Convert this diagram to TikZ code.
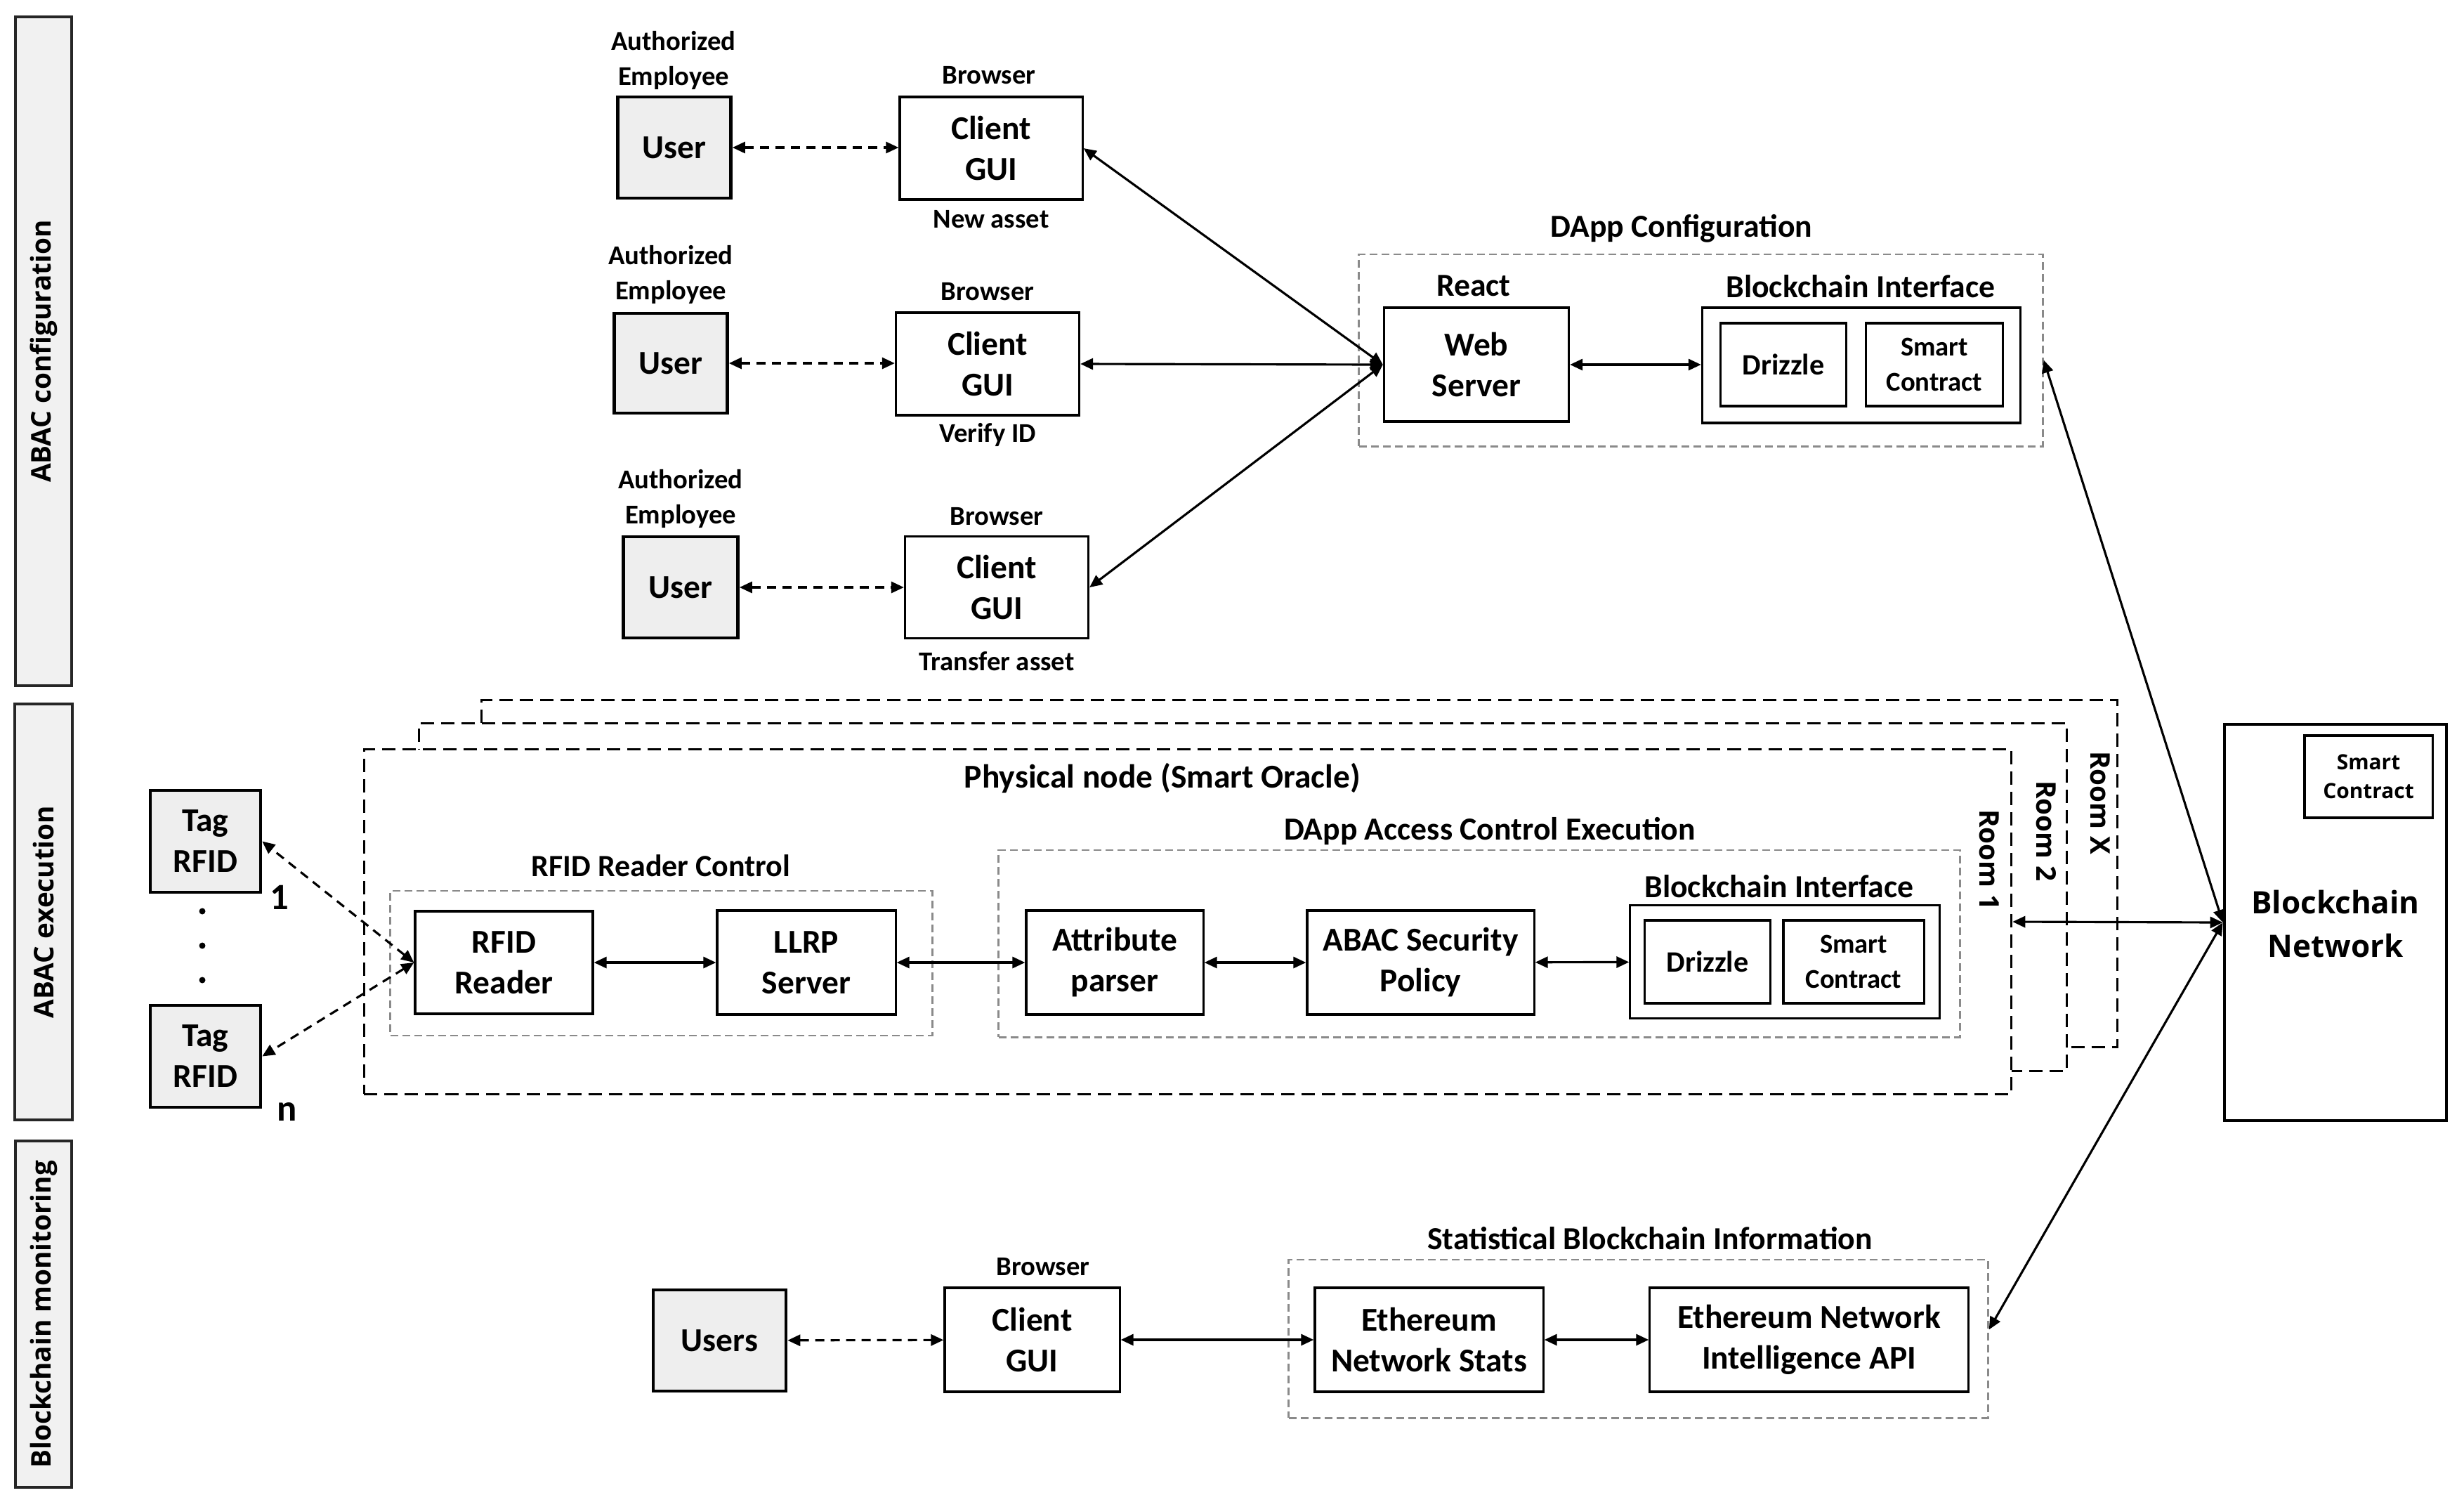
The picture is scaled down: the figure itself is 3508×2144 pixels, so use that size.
\documentclass[tikz,border=0pt]{standalone}
\usepackage{fontspec}
\setmainfont{Carlito}
\newfontfamily\osans{Open Sans}
\usetikzlibrary{arrows.meta}
\definecolor{ufill}{HTML}{EEEEEE}
\definecolor{bfill}{HTML}{F1F1F1}
\definecolor{grpc}{HTML}{8A8A8A}
\begin{document}
\begin{tikzpicture}[x=0.01cm, y=-0.01cm,
  box/.style={draw, line width=0.9pt, fill=white, inner sep=0pt, align=center, font=\bfseries\fontsize{13.5}{16.5}\selectfont},
  userbox/.style={box, fill=ufill, line width=1.3pt},
  lbl/.style={inner sep=0pt, align=center, font=\bfseries\fontsize{11}{14}\selectfont},
  ttl/.style={inner sep=0pt, align=center, font=\bfseries\fontsize{13}{16}\selectfont},
  grp/.style={draw=grpc, line width=0.8pt, dash pattern=on 1.1mm off 0.6mm, inner sep=0pt},
  room/.style={draw, fill=white, line width=0.9pt, dash pattern=on 1.9mm off 1mm, inner sep=0pt},
  band/.style={draw=black!85, fill=bfill, line width=1.1pt, inner sep=0pt, font=\osans\bfseries\fontsize{11}{13}\selectfont},
  roomlbl/.style={inner sep=0pt, font=\osans\bfseries\fontsize{11}{13}\selectfont},
  tip/.tip={Triangle[length=1.8mm,width=1.6mm]},
  arr/.style={tip-tip, line width=0.9pt},
  darr/.style={tip-tip, line width=0.9pt, dash pattern=on 1.3mm off 0.9mm},
  dotn/.style={circle, fill, inner sep=0pt, minimum size=0.09cm}
]
\useasboundingbox (0,0) rectangle (3508,2144);

% side bands
\node[band, rotate=90, minimum width=9.52cm, minimum height=0.80cm] (b1) at (62,500) {ABAC configuration};
\node[band, rotate=90, minimum width=5.92cm, minimum height=0.82cm] (b2) at (62,1298) {ABAC execution};
\node[band, rotate=90, minimum width=4.93cm, minimum height=0.80cm] (b3) at (62,1870.5) {Blockchain monitoring};

% row 1
\node[lbl] (ae1) at (959,86) {Authorized\\Employee};
\node[userbox, minimum width=1.61cm, minimum height=1.44cm] (u1) at (960,210) {User};
\node[lbl] (br1) at (1408,107) {Browser};
\node[box, minimum width=2.60cm, minimum height=1.46cm] (c1) at (1411,211) {Client\\GUI};
\node[lbl] (na) at (1411,312) {New asset};
% row 2
\node[lbl] (ae2) at (955,391) {Authorized\\Employee};
\node[userbox, minimum width=1.61cm, minimum height=1.42cm] (u2) at (955,517) {User};
\node[lbl] (br2) at (1406,415) {Browser};
\node[box, minimum width=2.61cm, minimum height=1.46cm] (c2) at (1406,518) {Client\\GUI};
\node[lbl] (vid) at (1406,619) {Verify ID};
% row 3
\node[lbl] (ae3) at (969,710) {Authorized\\Employee};
\node[userbox, minimum width=1.63cm, minimum height=1.44cm] (u3) at (969,836) {User};
\node[lbl] (br3) at (1419,735) {Browser};
\node[box, minimum width=2.61cm, minimum height=1.45cm] (c3) at (1419,836) {Client\\GUI};
\node[lbl] (ta) at (1419,941) {Transfer asset};

% DApp configuration
\node[grp, minimum width=9.73cm, minimum height=2.73cm] (dcg) at (2421.5,498.5) {};
\node[ttl] (dct) at (2394,325) {DApp Configuration};
\node[ttl] (react) at (2098,407) {React};
\node[box, minimum width=2.63cm, minimum height=1.62cm] (ws) at (2102,519) {Web\\Server};
\node[ttl] (bit1) at (2649,408) {Blockchain Interface};
\node[box, minimum width=4.53cm, minimum height=1.64cm] (bi1) at (2650,520) {};
\node[box, font=\bfseries\fontsize{12}{14}\selectfont, minimum width=1.79cm, minimum height=1.18cm] (dz1) at (2539,519) {Drizzle};
\node[box, font=\bfseries\fontsize{11}{14}\selectfont, minimum width=1.95cm, minimum height=1.18cm] (sc1) at (2754,519) {Smart\\Contract};

% rooms
\node[room, minimum width=23.28cm, minimum height=4.93cm] (roomx) at (1850,1243.5) {};
\node[room, minimum width=23.45cm, minimum height=4.94cm] (room2) at (1769.5,1277) {};
\node[room, minimum width=23.44cm, minimum height=4.90cm] (room1) at (1691,1312) {};
\node[roomlbl, rotate=-90] (rxl) at (2990,1143) {Room X};
\node[roomlbl, rotate=-90] (r2l) at (2913,1183) {Room 2};
\node[roomlbl, rotate=-90] (r1l) at (2832,1224) {Room 1};
\node[ttl, font=\bfseries\fontsize{13.5}{16}\selectfont] (pn) at (1655,1108) {Physical node (Smart Oracle)};

% RFID reader control
\node[ttl, font=\bfseries\fontsize{12.5}{15}\selectfont] (rrct) at (941,1232) {RFID Reader Control};
\node[grp, minimum width=7.71cm, minimum height=2.06cm] (rrc) at (941.5,1371) {};
\node[box, minimum width=2.53cm, minimum height=1.46cm] (rr) at (717.5,1370) {RFID\\Reader};
\node[box, minimum width=2.54cm, minimum height=1.48cm] (llrp) at (1148,1370) {LLRP\\Server};

% DApp access control execution
\node[ttl] (acet) at (2121,1183) {DApp Access Control Execution};
\node[grp, minimum width=13.68cm, minimum height=2.66cm] (ace) at (2106,1343) {};
\node[box, minimum width=2.52cm, minimum height=1.48cm] (ap) at (1587,1370) {Attribute\\parser};
\node[box, minimum width=3.23cm, minimum height=1.48cm] (abac) at (2022.5,1370) {ABAC Security\\Policy};
\node[ttl] (bit2) at (2533,1262) {Blockchain Interface};
\node[box, minimum width=4.40cm, minimum height=1.61cm] (bi2) at (2541,1369) {};
\node[box, font=\bfseries\fontsize{12}{14}\selectfont, minimum width=1.79cm, minimum height=1.18cm] (dz2) at (2431,1369) {Drizzle};
\node[box, font=\bfseries\fontsize{11}{14}\selectfont, minimum width=2.00cm, minimum height=1.18cm] (sc2) at (2639,1369) {Smart\\Contract};

% tags
\node[userbox, minimum width=1.57cm, minimum height=1.45cm] (tag1) at (292.5,1197.5) {Tag\\RFID};
\node[userbox, minimum width=1.57cm, minimum height=1.45cm] (tagn) at (292.5,1503.5) {Tag\\RFID};
\node[inner sep=0pt, font=\bfseries\fontsize{15}{17}\selectfont] (one) at (398,1277) {1};
\node[inner sep=0pt, font=\bfseries\fontsize{15}{17}\selectfont] (enn) at (409,1582) {n};
\node[dotn] (dd1) at (288,1297) {};
\node[dotn] (dd2) at (288,1346) {};
\node[dotn] (dd3) at (288,1395) {};

% blockchain network
\node[draw, line width=1.3pt, inner sep=0pt, minimum width=3.16cm, minimum height=5.64cm] (bn) at (3325,1313) {};
\node[inner sep=0pt, align=center, font=\osans\bfseries\fontsize{12.5}{17.5}\selectfont] (bnt) at (3325,1315) {Blockchain\\Network};
\node[draw, line width=0.9pt, inner sep=0pt, align=center, minimum width=1.82cm, minimum height=1.17cm, font=\osans\bfseries\fontsize{8.5}{11.5}\selectfont] (bnsc) at (3372,1105.5) {Smart\\Contract};

% monitoring row
\node[lbl] (br4) at (1485,1803) {Browser};
\node[ttl] (sbit) at (2349,1763) {Statistical Blockchain Information};
\node[grp, minimum width=9.95cm, minimum height=2.25cm] (sbi) at (2332.5,1905.5) {};
\node[userbox, minimum width=1.89cm, minimum height=1.44cm] (users) at (1024.5,1908) {Users};
\node[box, minimum width=2.49cm, minimum height=1.48cm] (cg) at (1469.5,1907) {Client\\GUI};
\node[box, minimum width=3.25cm, minimum height=1.48cm] (ens) at (2034.5,1907) {Ethereum\\Network Stats};
\node[box, minimum width=4.53cm, minimum height=1.48cm] (api) at (2575.5,1907) {Ethereum Network\\Intelligence API};

% connectors
\draw[darr] (u1.east) -- (u1.east -| c1.west);
\draw[darr] (u2.east) -- (u2.east -| c2.west);
\draw[darr] (u3.east) -- (u3.east -| c3.west);
\draw[arr] (c1.east) -- (ws.west);
\draw[arr] (c2.east) -- (ws.west);
\draw[arr] (c3.east) -- (ws.west);
\draw[arr] (ws.east) -- (ws.east -| bi1.west);
\draw[arr] (bn.west) -- ([yshift=-0.14cm]dcg.east);
\draw[arr] (bn.west) -- (room1.east);
\draw[arr] (bn.west) -- ([yshift=0.13cm]sbi.east);
\draw[darr] (rr.west) -- (tag1.east);
\draw[darr] (rr.west) -- (tagn.east);
\draw[arr] (rr) -- (llrp);
\draw[arr] (llrp) -- (ap);
\draw[arr] (ap) -- (abac);
\draw[arr] (abac) -- (bi2);
\draw[darr] (users) -- (cg);
\draw[arr] (cg) -- (ens);
\draw[arr] (ens) -- (api);
\end{tikzpicture}
\end{document}
